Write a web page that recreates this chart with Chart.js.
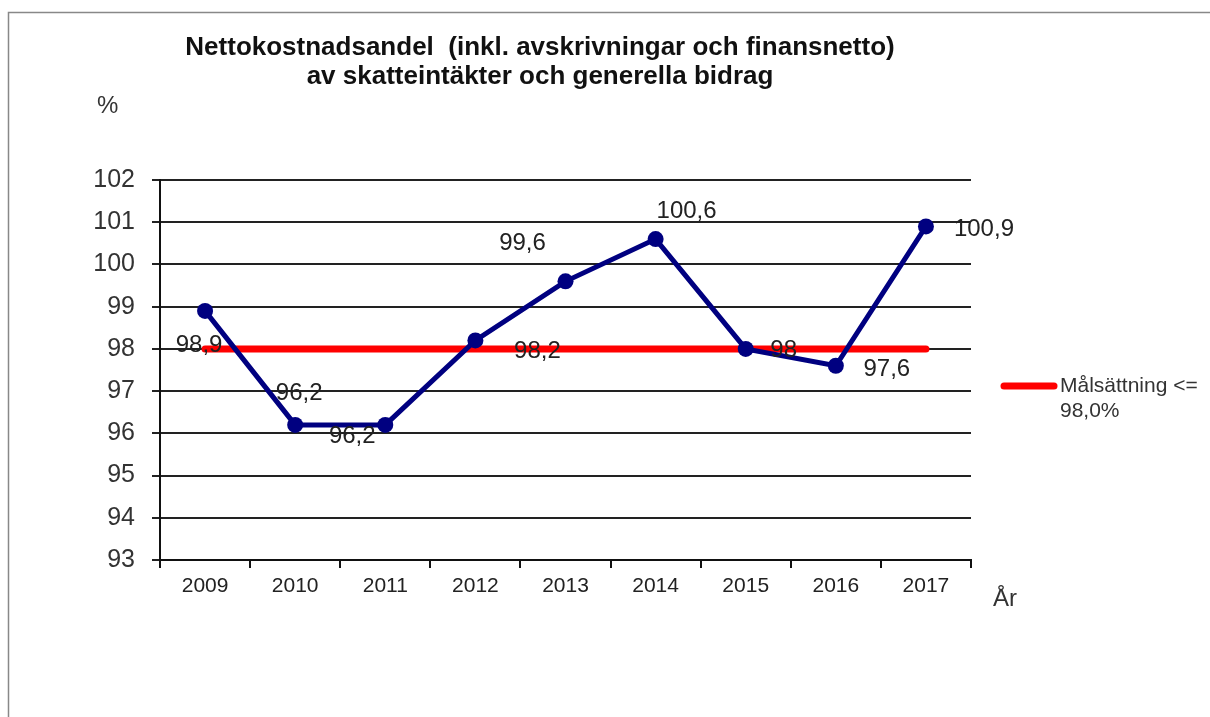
<!DOCTYPE html>
<html>
<head>
<meta charset="utf-8">
<script src="https://cdn.jsdelivr.net/npm/chart.js@4"></script>
<style>
  body { margin: 0; background: #fff; }
  #wrap { width: 1210px; height: 717px; }
</style>
</head>
<body>
<div id="wrap"><canvas id="chart" width="1210" height="717"></canvas></div>
<script>
// data
const years = ['2009', '2010', '2011', '2012', '2013', '2014', '2015', '2016', '2017'];
const nettoValues = [98.9, 96.2, 96.2, 98.2, 99.6, 100.6, 98.0, 97.6, 100.9];
const nettoLabels = ['98,9', '96,2', '96,2', '98,2', '99,6', '100,6', '98', '97,6', '100,9'];
const targetValues = [98, 98, 98, 98, 98, 98, 98, 98, 98];
const yMin = 93;
const yMax = 102;
const titleLines = ['Nettokostnadsandel  (inkl. avskrivningar och finansnetto)', 'av skatteintäkter och generella bidrag'];
const legendLines = ['Målsättning <=', '98,0%'];

// where each value label sits relative to its point
const labelOffsets = [[-6, 34], [4, -32], [-33, 11], [62, 11], [-43, -38], [31, -28], [38, 1], [51, 4], [58, 3]];

const FONT = '"Liberation Sans", Arial, sans-serif';

const extras = {
  id: 'extras',
  afterDraw(chart) {
    const ctx = chart.ctx;
    ctx.save();

    // outer frame
    ctx.strokeStyle = '#888';
    ctx.lineWidth = 1.5;
    ctx.strokeRect(8.5, 12.5, 1220, 720);

    // title
    ctx.fillStyle = '#111';
    ctx.font = 'bold 26px ' + FONT;
    ctx.textAlign = 'center';
    ctx.textBaseline = 'middle';
    ctx.fillText(titleLines[0], 540, 48);
    ctx.fillText(titleLines[1], 540, 77);

    // axis captions
    ctx.fillStyle = '#333';
    ctx.font = '24px ' + FONT;
    ctx.textAlign = 'left';
    ctx.fillText('%', 97, 106);
    ctx.fillText('År', 993, 599);

    // value labels
    const meta = chart.getDatasetMeta(0);
    ctx.font = '24px ' + FONT;
    ctx.textAlign = 'center';
    ctx.fillStyle = '#222';
    meta.data.forEach((pt, i) => {
      const o = labelOffsets[i];
      ctx.fillText(nettoLabels[i], pt.x + o[0], pt.y + o[1]);
    });

    // legend
    ctx.strokeStyle = '#ff0000';
    ctx.lineWidth = 7;
    ctx.lineCap = 'round';
    ctx.beginPath();
    ctx.moveTo(1004, 386);
    ctx.lineTo(1054, 386);
    ctx.stroke();
    ctx.fillStyle = '#333';
    ctx.font = '21px ' + FONT;
    ctx.textAlign = 'left';
    ctx.fillText(legendLines[0], 1060, 386);
    ctx.fillText(legendLines[1], 1060, 411);

    ctx.restore();
  }
};

new Chart(document.getElementById('chart'), {
  type: 'line',
  data: {
    labels: years,
    datasets: [
      {
        label: 'Nettokostnadsandel',
        data: nettoValues,
        borderColor: '#000080',
        backgroundColor: '#000080',
        borderWidth: 5,
        pointRadius: 8,
        pointHoverRadius: 8,
        pointBackgroundColor: '#000080',
        pointBorderWidth: 0,
        tension: 0,
        order: 1
      },
      {
        label: 'Målsättning <= 98,0%',
        data: targetValues,
        borderColor: '#ff0000',
        borderWidth: 7,
        borderCapStyle: 'round',
        pointRadius: 0,
        tension: 0,
        order: 2
      }
    ]
  },
  options: {
    responsive: false,
    animation: false,
    devicePixelRatio: 1,
    layout: { padding: { left: 70, top: 180, right: 239, bottom: 97 } },
    plugins: {
      legend: { display: false },
      title: { display: false },
      tooltip: { enabled: false }
    },
    scales: {
      x: {
        offset: true,
        afterFit(s) { s.height = 60; },
        grid: { offset: true, drawOnChartArea: false, drawTicks: true, tickLength: 8, color: '#111', lineWidth: 2 },
        border: { display: true, color: '#111', width: 2 },
        ticks: { color: '#222', font: { family: FONT, size: 21 }, padding: 6, maxRotation: 0 }
      },
      y: {
        min: yMin,
        max: yMax,
        afterFit(s) { s.width = 90; },
        grid: { color: '#222', lineWidth: 2, drawTicks: true, tickLength: 8 },
        border: { display: true, color: '#111', width: 2 },
        ticks: { stepSize: 1, color: '#333', font: { family: FONT, size: 25 }, padding: 17 }
      }
    }
  },
  plugins: [extras]
});
</script>
</body>
</html>
